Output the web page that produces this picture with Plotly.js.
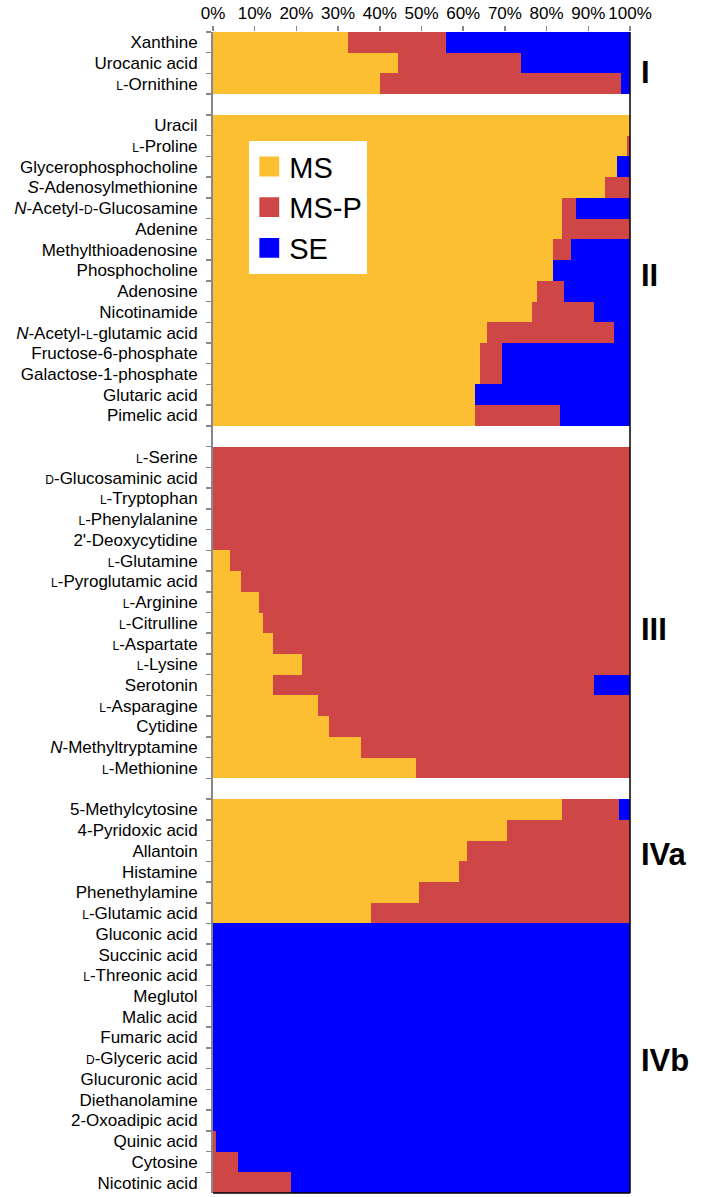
<!DOCTYPE html>
<html>
<head>
<meta charset="utf-8">
<script src="https://cdn.plot.ly/plotly-3.0.1.min.js"></script>
<style>
html,body{margin:0;padding:0;background:#fff;}
#chart{width:709px;height:1197px;}
</style>
</head>
<body>
<div id="chart"></div>
<script>
var SC = function(t){ return '<span style="font-size:12px">' + t + '</span>'; };

var categories = [
  'Xanthine', 'Urocanic acid', SC('L') + '-Ornithine',
  ' ',
  'Uracil', SC('L') + '-Proline', 'Glycerophosphocholine', '<i>S</i>-Adenosylmethionine',
  '<i>N</i>-Acetyl-' + SC('D') + '-Glucosamine', 'Adenine', 'Methylthioadenosine', 'Phosphocholine',
  'Adenosine', 'Nicotinamide', '<i>N</i>-Acetyl-' + SC('L') + '-glutamic acid', 'Fructose-6-phosphate',
  'Galactose-1-phosphate', 'Glutaric acid', 'Pimelic acid',
  '  ',
  SC('L') + '-Serine', SC('D') + '-Glucosaminic acid', SC('L') + '-Tryptophan', SC('L') + '-Phenylalanine',
  "2'-Deoxycytidine", SC('L') + '-Glutamine', SC('L') + '-Pyroglutamic acid', SC('L') + '-Arginine',
  SC('L') + '-Citrulline', SC('L') + '-Aspartate', SC('L') + '-Lysine', 'Serotonin',
  SC('L') + '-Asparagine', 'Cytidine', '<i>N</i>-Methyltryptamine', SC('L') + '-Methionine',
  '   ',
  '5-Methylcytosine', '4-Pyridoxic acid', 'Allantoin', 'Histamine', 'Phenethylamine', SC('L') + '-Glutamic acid',
  'Gluconic acid', 'Succinic acid', SC('L') + '-Threonic acid', 'Meglutol', 'Malic acid', 'Fumaric acid',
  SC('D') + '-Glyceric acid', 'Glucuronic acid', 'Diethanolamine', '2-Oxoadipic acid', 'Quinic acid',
  'Cytosine', 'Nicotinic acid'
];

var msValues = [
  32.4, 44.4, 40.1,
  null,
  100, 99.3, 96.8, 94.0, 83.8, 83.8, 81.5, 81.5, 77.6, 76.6, 65.7, 64.1, 64.1, 62.9, 62.9,
  null,
  0, 0, 0, 0, 0, 4.0, 6.7, 11.0, 12.1, 14.4, 21.3, 14.4, 25.2, 27.9, 35.6, 48.7,
  null,
  83.8, 70.5, 60.9, 59.1, 49.3, 37.8,
  0, 0, 0, 0, 0, 0, 0, 0, 0, 0, 0, 0, 0
];

var mspValues = [
  23.4, 29.4, 57.7,
  null,
  0, 0.7, 0, 6.0, 3.2, 16.2, 4.3, 0, 6.6, 14.8, 30.5, 5.3, 5.3, 0, 20.2,
  null,
  100, 100, 100, 100, 100, 96.0, 93.3, 89.0, 87.9, 85.6, 78.7, 77.0, 74.8, 72.1, 64.4, 51.3,
  null,
  13.6, 29.5, 39.1, 40.9, 50.7, 62.2,
  0, 0, 0, 0, 0, 0, 0, 0, 0, 0, 0.7, 6.1, 18.7
];

var seValues = [
  44.2, 26.2, 2.2,
  null,
  0, 0, 3.2, 0, 13.0, 0, 14.2, 18.5, 15.8, 8.6, 3.8, 30.6, 30.6, 37.1, 16.9,
  null,
  0, 0, 0, 0, 0, 0, 0, 0, 0, 0, 0, 8.6, 0, 0, 0, 0,
  null,
  2.6, 0, 0, 0, 0, 0,
  100, 100, 100, 100, 100, 100, 100, 100, 100, 100, 99.3, 93.9, 81.3
];

var seriesNames = ['MS', 'MS-P', 'SE'];
var seriesColors = ['#FCBF31', '#CF4646', '#0000FF'];

var groupLabels = ['I', 'II', 'III', 'IVa', 'IVb'];
var groupAnchors = ['Urocanic acid', 'Phosphocholine', SC('L') + '-Citrulline', 'Allantoin', SC('D') + '-Glyceric acid'];
var groupShifts = [-9, -5, -7, -4, -2];

var allValues = [msValues, mspValues, seValues];
var traces = allValues.map(function(v, i){
  return {
    type: 'bar',
    orientation: 'h',
    name: seriesNames[i],
    legendgroup: 'g' + i,
    y: categories,
    x: v,
    marker: {color: seriesColors[i], line: {width: 0}},
    hoverinfo: 'skip'
  };
});

var annotations = groupLabels.map(function(t, i){
  return {
    text: '<b>' + t + '</b>',
    xref: 'paper', yref: 'y',
    x: 1.022, y: groupAnchors[i],
    xanchor: 'left', yanchor: 'middle',
    yshift: groupShifts[i],
    showarrow: false,
    font: {family: 'Liberation Sans, Arial, sans-serif', size: 31, color: '#000'}
  };
});

var layout = {
  width: 709, height: 1197,
  margin: {l: 213, r: 79, t: 32, b: 4},
  paper_bgcolor: '#fff',
  plot_bgcolor: '#fff',
  barmode: 'stack',
  bargap: 0,
  font: {family: 'Liberation Sans, Arial, sans-serif', color: '#000'},
  xaxis: {
    side: 'top',
    range: [0, 100],
    dtick: 10,
    tick0: 0,
    ticksuffix: '%',
    ticks: 'outside',
    ticklen: 5,
    tickcolor: '#888',
    tickwidth: 1.5,
    showline: false,
    showgrid: false,
    zeroline: false,
    tickfont: {size: 17, color: '#000'},
    fixedrange: true
  },
  yaxis: {
    type: 'category',
    autorange: 'reversed',
    ticks: 'outside',
    tickson: 'boundaries',
    ticklen: 5,
    tickcolor: '#888',
    tickwidth: 1.5,
    showline: true,
    linecolor: '#888',
    linewidth: 2,
    showgrid: false,
    zeroline: false,
    ticklabelstandoff: 10,
    tickfont: {size: 17, color: '#000'},
    fixedrange: true
  },
  showlegend: true,
  legend: {
    x: 0.087, y: 0.906,
    xanchor: 'left', yanchor: 'top',
    bgcolor: '#fff',
    borderwidth: 0,
    traceorder: 'grouped',
    tracegroupgap: 0,
    font: {size: 29, color: '#000'},
    itemclick: false, itemdoubleclick: false
  },
  shapes: [
    {type: 'line', xref: 'paper', yref: 'paper', x0: 1, x1: 1, y0: 0, y1: 1, line: {color: '#000', width: 1.5}},
    {type: 'line', xref: 'paper', yref: 'paper', x0: 0, x1: 1, y0: 0, y1: 0, line: {color: '#000', width: 1.5}}
  ],
  annotations: annotations
};

Plotly.newPlot('chart', traces, layout, {staticPlot: true, displayModeBar: false}).then(function(gd){
  gd.querySelectorAll('.legendpoints path').forEach(function(p){
    var t = p.getAttribute('transform') || '';
    p.setAttribute('transform', t + ' scale(1.65)');
  });
});
</script>
</body>
</html>
